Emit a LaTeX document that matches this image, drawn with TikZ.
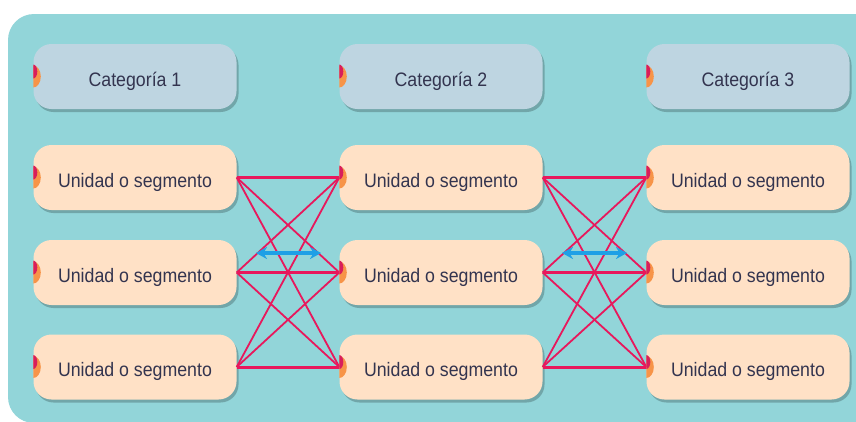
\documentclass[tikz,border=0pt]{standalone}
\usepackage{fontspec}
\setmainfont{Liberation Sans}[FakeStretch=0.91]
\usetikzlibrary{shadows,arrows.meta,calc}
\definecolor{bgteal}{HTML}{92D5D9}
\definecolor{catfill}{HTML}{BED5E1}
\definecolor{unitfill}{HTML}{FFE1C6}
\definecolor{txt}{HTML}{33344F}
\definecolor{linkred}{HTML}{E8185C}
\definecolor{arrblue}{HTML}{1EA0E6}
\definecolor{mkorange}{HTML}{F79448}
\definecolor{mkred}{HTML}{D81E5B}
\begin{document}
\begin{tikzpicture}[x=1pt,y=-1pt,
  boxbase/.style={rounded corners=18pt, minimum width=203pt, minimum height=65pt, inner sep=0pt,
    text height=19pt, text depth=0pt,
    text=txt, font=\fontsize{19.5}{22}\selectfont,
    drop shadow={shadow xshift=2pt,shadow yshift=-3pt,opacity=0.22,fill=black}},
  catbox/.style={boxbase, fill=catfill},
  unitbox/.style={boxbase, fill=unitfill},
  hlink/.style={linkred, line width=3pt},
  dlink/.style={linkred, line width=1.8pt},
  darrow/.style={arrblue, line width=3.2pt, {Stealth[length=11pt,width=12pt]}-{Stealth[length=11pt,width=12pt]}}]
\useasboundingbox (0,0) rectangle (856,421);
\fill[white] (0,0) rectangle (856,421);
\fill[bgteal, rounded corners=26pt] (8,14) rectangle (900,423);

% categories
\node[catbox] (c1) at (135,76.5) {Categoría 1};
\node[catbox] (c2) at (441,76.5) {Categoría 2};
\node[catbox] (c3) at (748,76.5) {Categoría 3};
% units
\foreach \c/\x in {1/135,2/441,3/748}{
  \foreach \r/\y in {1/177.5,2/272.5,3/367}{
    \node[unitbox] (u\c\r) at (\x,\y) {Unidad o segmento};
  }
}
% links
\foreach \a/\b in {1/2,2/3}{
  \foreach \i in {1,2,3}{
    \foreach \j in {1,2,3}{
      \ifnum\i=\j
        \draw[hlink] (u\a\i.east) -- (u\b\j.west);
      \else
        \draw[dlink] (u\a\i.east) -- (u\b\j.west);
      \fi
    }
  }
}
% markers
\foreach \n in {c1,c2,c3,u11,u12,u13,u21,u22,u23,u31,u32,u33}{
  \begin{scope}
    \clip ($(\n.west)+(0,-12)$) rectangle ($(\n.west)+(9,12)$);
    \fill[mkorange] (\n.west) ellipse [x radius=7.5pt, y radius=11pt];
    \fill[mkred] ($(\n.west)+(0,-5)$) ellipse [x radius=4pt, y radius=7pt];
  \end{scope}
}
% blue arrows
\coordinate (a1l) at (256,253);
\coordinate (a1r) at (321,253);
\coordinate (a2l) at (562,253);
\coordinate (a2r) at (627,253);
\draw[darrow] (a1l) -- (a1r);
\draw[darrow] (a2l) -- (a2r);
\end{tikzpicture}
\end{document}
